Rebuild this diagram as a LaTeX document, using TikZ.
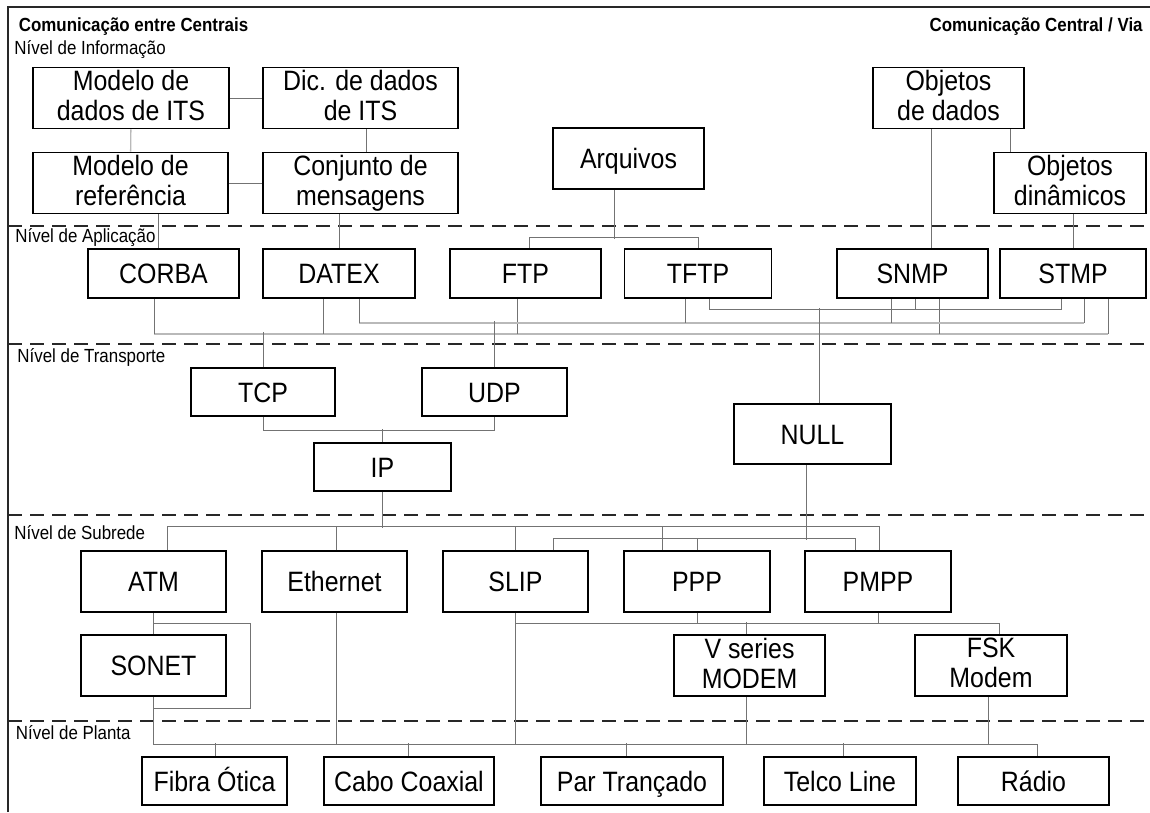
\documentclass[tikz,border=0pt]{standalone}
\usepackage{fontspec}
\setmainfont{Liberation Sans}
\newfontfamily\boxfont[FakeStretch=0.89]{Liberation Sans}
\newcommand{\boxstrut}{\vrule height 25pt depth 5pt width 0pt}
\definecolor{wiregray}{RGB}{115,115,115}
\definecolor{lightwire}{RGB}{185,185,185}
\definecolor{framegray}{RGB}{40,40,40}
\begin{document}
\begin{tikzpicture}[x=1pt, y=-1pt, thick,
			main node/.style={draw, line width=1.6pt, inner sep=0pt, minimum height=61pt, minimum width=151pt, align=center, font=\boxfont\fontsize{28}{30}\selectfont, execute at begin node=\boxstrut, execute at end node=\boxstrut},
			one line/.style={text height=20pt, text depth=0pt},
			low node/.style={main node, one line, minimum height=49pt},
			level label/.style={anchor=west, inner sep=0pt, font=\boxfont\fontsize{19}{22}\selectfont},
			title label/.style={level label, font=\boxfont\fontsize{19}{22}\selectfont\bfseries},
			wire/.style={draw=wiregray, line width=1pt},
			pale wire/.style={draw=lightwire, line width=1.4pt},
			divider/.style={draw=framegray, line width=2pt, dash pattern=on 14pt off 8pt}]
			
			\useasboundingbox (0,0) rectangle (1150,812);
			\draw[line width=2pt, draw=framegray] (8,812) -- (8,7) -- (1150,7);
			\foreach \y in {226,344,515,721}
			\draw[divider] (8,\y) -- (1150,\y);
			
			\node[title label] (t1) at (18.5,27) {Comunicação entre Centrais};
			\node[title label, anchor=east] (t2) at (1143,27) {Comunicação Central / Via};
			\node[level label] (l1) at (14,50) {Nível de Informação};
			\node[level label] (l2) at (15,238) {Nível de Aplicação};
			\node[level label] (l3) at (17,357) {Nível de Transporte};
			\node[level label] (l4) at (14,533) {Nível de Subrede};
			\node[level label] (l5) at (15.5,733) {Nível de Planta};
			
			% informacao
			\node[main node, minimum width=196pt] (mdados) at (131,98) {Modelo de\\dados de ITS};
			\node[main node, minimum width=195pt] (dic) at (360.5,98) {Dic. de dados\\de ITS};
			\node[main node, minimum width=195pt] (mref) at (130.5,183) {Modelo de\\referência};
			\node[main node, minimum width=195pt] (conj) at (360.5,183) {Conjunto de\\mensagens};
			\node[main node, one line] (arq) at (628.5,158.5) {Arquivos};
			\node[main node] (odados) at (948.5,98) {Objetos\\de dados};
			\node[main node, minimum width=152pt] (odin) at (1070,183) {Objetos\\dinâmicos};
			
			% aplicacao
			\node[low node] (corba) at (163.5,273.5) {CORBA};
			\node[low node, minimum width=152pt] (datex) at (339,273.5) {DATEX};
			\node[low node] (ftp) at (525.5,273.5) {FTP};
			\node[low node, minimum width=147pt] (tftp) at (698,273.5) {TFTP};
			\node[low node] (snmp) at (912.5,273.5) {SNMP};
			\node[low node, minimum width=146pt] (stmp) at (1073,273.5) {STMP};
			
			% transporte
			\node[low node, minimum width=144pt, minimum height=48pt] (tcp) at (263,392) {TCP};
			\node[low node, minimum width=145pt, minimum height=48pt] (udp) at (494.5,392) {UDP};
			\node[low node, minimum width=137pt, minimum height=48pt] (ip) at (382.5,467) {IP};
			\node[main node, one line, minimum width=157pt, minimum height=60pt] (null) at (812.5,434) {NULL};
			
			% subrede
			\node[main node, one line, minimum width=145pt] (atm) at (153.5,581.5) {ATM};
			\node[main node, one line, minimum width=145pt] (eth) at (334.5,581.5) {Ethernet};
			\node[main node, one line, minimum width=145pt] (slip) at (515.5,581.5) {SLIP};
			\node[main node, one line, minimum width=146pt] (ppp) at (697,581.5) {PPP};
			\node[main node, one line, minimum width=146pt] (pmpp) at (878,581.5) {PMPP};
			\node[main node, one line, minimum width=145pt] (sonet) at (153.5,665.5) {SONET};
			\node[main node] (vser) at (749.5,665.5) {V series\\MODEM};
			\node[main node, minimum width=152pt] (fsk) at (991,665.5) {FSK\\Modem};
			
			% planta
			\node[low node, minimum width=145pt, minimum height=48pt] (fibra) at (214.5,781) {Fibra Ótica};
			\node[low node, minimum width=170pt, minimum height=48pt] (cabo) at (409,781) {Cabo Coaxial};
			\node[low node, minimum width=182pt, minimum height=48pt] (par) at (632,781) {Par Trançado};
			\node[low node, minimum width=152pt, minimum height=48pt] (telco) at (840,781) {Telco Line};
			\node[low node, minimum width=151pt, minimum height=48pt] (radio) at (1033.5,781) {Rádio};
			
			% ligacoes informacao
			\draw[wire] (mdados) -- (dic)
			(mref) -- (conj)
			([xshift=5.5pt]dic.south) -- ([xshift=5.5pt]conj.north);
			\draw[pale wire] (mdados) -- (mref);
			\draw[wire] ([xshift=27.5pt]mref.south) -- ([xshift=-5.5pt]corba.north);
			\draw[wire] ([xshift=-21.5pt]conj.south) -- (datex.north);
			\draw[wire] ([xshift=-14.5pt]arq.south) -- ++(0,49);
			\draw[wire] ([xshift=3.5pt]ftp.north) -- ++(0,-11) -| (tftp.north);
			\draw[wire] ([xshift=-17.5pt]odados.south) -- ([xshift=18.5pt]snmp.north);
			\draw[wire] ([xshift=61.5pt]odados.south) -- ([xshift=-60pt]odin.north);
			\draw[wire] ([xshift=3pt]odin.south) -- (stmp.north);
			
			% aplicacao -> transporte
			\draw[pale wire] ([xshift=-9.5pt]corba.south) ++(0,35) -- ++(954,0);
			\foreach \n/\d in {corba/-9.5, datex/-16, ftp/-8.5, snmp/26.5, stmp/35}
			\draw[wire] ([xshift=\d pt]\n.south) -- ++(0,35);
			\draw[wire] (tcp.north) -- ++(0,-35);
			\draw[pale wire] ([xshift=20pt]datex.south) ++(0,24) -- ++(725,0);
			\foreach \n/\d in {datex/20, tftp/-13, snmp/-21.5, stmp/11}
			\draw[wire] ([xshift=\d pt]\n.south) -- ++(0,24);
			\draw[wire] (udp.north) -- ++(0,-46);
			\draw[wire] ([xshift=11pt]tftp.south) -- ++(0,11) -| ([xshift=-12pt]stmp.south);
			\draw[wire] ([xshift=2.5pt]snmp.south) -- ++(0,11);
			\draw[wire] ([xshift=6.5pt]null.north) -- ++(0,-95);
			
			% transporte -> subrede
			\draw[wire] (tcp.south) -- ++(0,14) -| (udp.south);
			\draw[wire] (ip.north) -- ++(0,-13);
			\draw[wire] (ip.south) -- ++(0,36);
			\draw[wire] ([xshift=13.5pt]atm.north) -- ++(0,-24) -| ([xshift=1pt]pmpp.north);
			\foreach \n/\d in {eth/1.5, slip/0, ppp/-35}
			\draw[wire] ([xshift=\d pt]\n.north) -- ++(0,-24);
			\draw[wire] ([xshift=-6.5pt]null.south) -- ++(0,75);
			\draw[wire] ([xshift=37.5pt]slip.north) -- ++(0,-12) -| ([xshift=-23pt]pmpp.north);
			\draw[wire] (ppp.north) -- ++(0,-12);
			
			% subrede
			\draw[wire] (slip.south) -- ++(0,11) -| ([xshift=8pt]fsk.north);
			\draw[wire] (ppp.south) -- ++(0,11);
			\draw[wire] (pmpp.south) -- ++(0,11);
			\draw[wire] ([xshift=-3.5pt]vser.north) -- ++(0,-12);
			\draw[wire] (atm.south) -- (sonet.north);
			\draw[wire] (atm.south) ++(0,11) -- ++(97,0) -- ++(0,85) -- ++(-97,0);
			
			% subrede -> planta
			\draw[wire] (sonet.south) -- ++(0,48) -| ([xshift=3.5pt]radio.north);
			\foreach \n/\d in {eth/1.5, slip/0}
			\draw[wire] ([xshift=\d pt]\n.south) -- ++(0,132);
			\draw[wire] ([xshift=-3.5pt]vser.south) -- ++(0,48);
			\draw[wire] ([xshift=-3pt]fsk.south) -- ++(0,48);
			\foreach \n/\d in {fibra/0.5, cabo/-1, par/-6, telco/3}
			\draw[wire] ([xshift=\d pt]\n.north) -- ++(0,-13);
			
			\end{tikzpicture}
\end{document}
